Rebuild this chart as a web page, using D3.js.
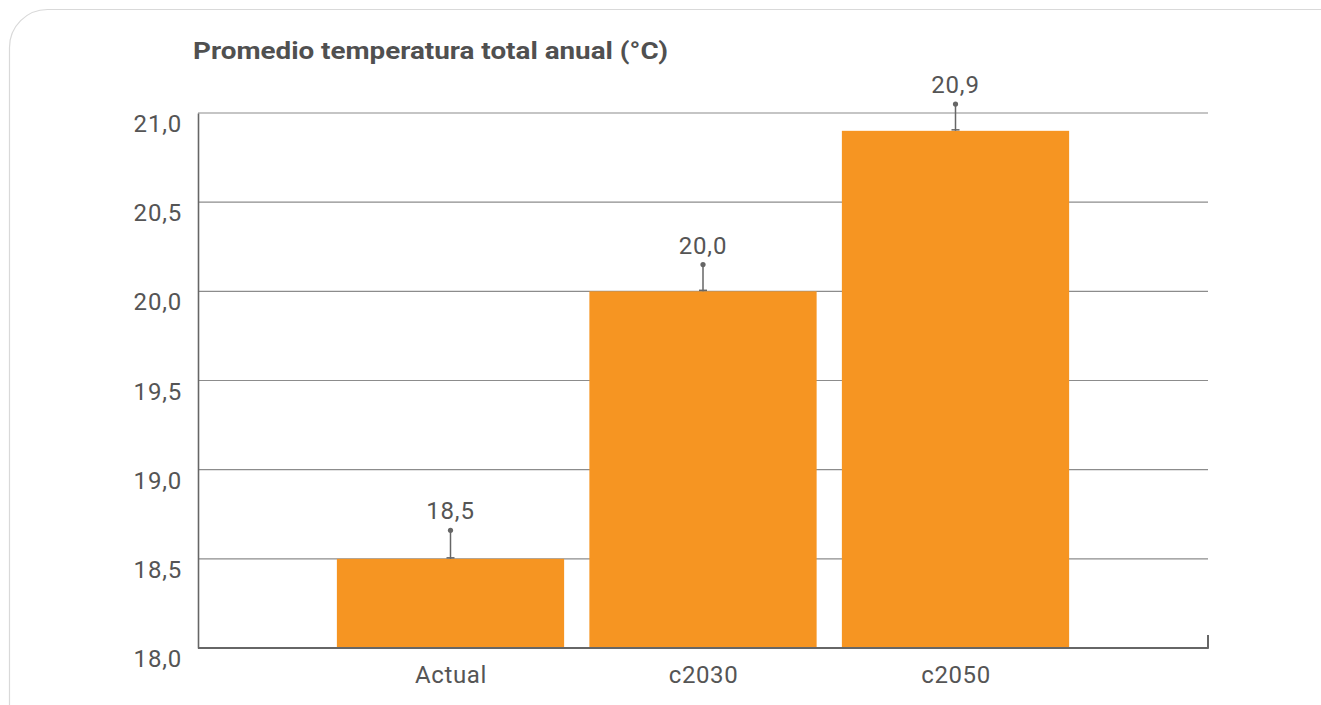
<!DOCTYPE html>
<html><head><meta charset="utf-8">
<script src="https://cdn.jsdelivr.net/npm/d3@7"></script>
<style>
html,body{margin:0;padding:0;background:#fff;}
svg{display:block;}
</style></head>
<body>
<svg id="chart" width="1321" height="705"></svg>
<script>
const categories = ["Actual", "c2030", "c2050"];
const values = [18.5, 20.0, 20.9];
const errorUpper = [0.16, 0.15, 0.15];
const yTicks = [18.0, 18.5, 19.0, 19.5, 20.0, 20.5, 21.0];
const title = "Promedio temperatura total anual (°C)";

const svg = d3.select("#chart");
const fmt = v => d3.format(".1f")(v).replace(".", ",");
const FONT = "Roboto, sans-serif";

// card
svg.append("rect").attr("x", 9.5).attr("y", 9.5).attr("width", 1360).attr("height", 740)
  .attr("rx", 38).attr("ry", 38).attr("fill", "#fff").attr("stroke", "#d9d9d9").attr("stroke-width", 1.2);

const pLeft = 198, pRight = 1208, pTop = 113, pBottom = 648;
const x = d3.scalePoint().domain(["_a", ...categories, "_b"]).range([pLeft, pRight]);
const step = x.step();
const barW = step * 0.9;
const y = d3.scaleLinear().domain([18, 21]).range([pBottom, pTop]);

// gridlines
svg.append("g").selectAll("line").data(yTicks.filter(t => t > 18)).join("line")
  .attr("x1", pLeft).attr("x2", pRight).attr("y1", d => y(d)).attr("y2", d => y(d))
  .attr("stroke", "#8c8c8c").attr("stroke-width", 1.2);

// bars
svg.append("g").selectAll("rect").data(values).join("rect")
  .attr("x", (d, i) => x(categories[i]) - barW / 2)
  .attr("width", barW)
  .attr("y", d => y(d))
  .attr("height", d => y(18) - y(d))
  .attr("fill", "#f69522");

// error bars
const eg = svg.append("g").attr("stroke", "#666").attr("stroke-width", 1.5);
values.forEach((v, i) => {
  const cx = x(categories[i]);
  eg.append("line").attr("x1", cx).attr("x2", cx).attr("y1", y(v)).attr("y2", y(v + errorUpper[i]));
  eg.append("line").attr("x1", cx - 4).attr("x2", cx + 4).attr("y1", y(v) - 1).attr("y2", y(v) - 1);
  svg.append("circle").attr("cx", cx).attr("cy", y(v + errorUpper[i])).attr("r", 2.6).attr("fill", "#666");
});

// value labels
svg.append("g").selectAll("text").data(values).join("text")
  .attr("x", (d, i) => x(categories[i]))
  .attr("y", (d, i) => y(d + errorUpper[i]) - 11)
  .attr("text-anchor", "middle")
  .attr("font-family", FONT).attr("font-size", 24).attr("letter-spacing", 0.8).attr("fill", "#555")
  .text(d => fmt(d));

// y axis
const yAxis = d3.axisLeft(y).tickValues(yTicks).tickFormat(fmt).tickSize(0).tickPadding(16);
const ya = svg.append("g").attr("transform", `translate(${pLeft},0)`).call(yAxis);
ya.select(".domain").attr("stroke", "#666").attr("stroke-width", 1.6);
ya.selectAll("text").attr("font-family", FONT).attr("font-size", 24).attr("letter-spacing", 0.8)
  .attr("fill", "#555").attr("dy", 18.5);

// x axis
const xAxis = d3.axisBottom(x).tickValues(categories).tickSize(0).tickPadding(0);
const xa = svg.append("g").attr("transform", `translate(0,${pBottom})`).call(xAxis);
xa.select(".domain").remove();
xa.selectAll("text").attr("font-family", FONT).attr("font-size", 24).attr("letter-spacing", 0.6)
  .attr("fill", "#555").attr("y", 35).attr("dy", 0);
svg.append("line").attr("x1", pLeft).attr("x2", pRight + 0.8).attr("y1", pBottom).attr("y2", pBottom)
  .attr("stroke", "#666").attr("stroke-width", 2);
svg.append("line").attr("x1", pRight).attr("x2", pRight).attr("y1", pBottom).attr("y2", pBottom - 13)
  .attr("stroke", "#666").attr("stroke-width", 2);

// title
svg.append("text").attr("x", 193).attr("y", 59)
  .attr("font-family", FONT).attr("font-weight", 700).attr("font-size", 24.5)
  .attr("fill", "#505050").attr("textLength", 475).attr("lengthAdjust", "spacingAndGlyphs")
  .text(title);
</script>
</body></html>
